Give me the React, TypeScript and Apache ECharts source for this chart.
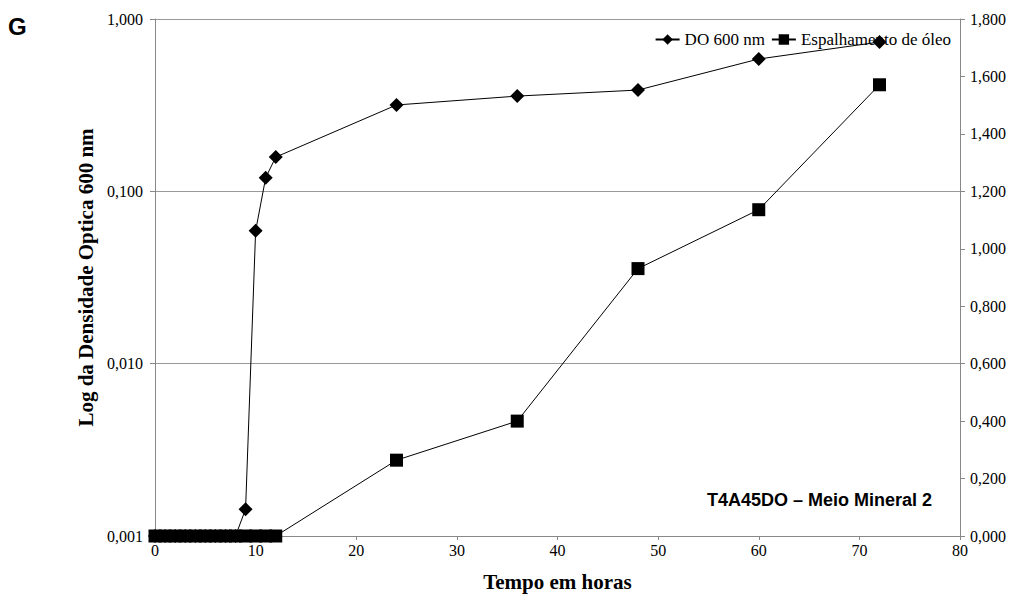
import React, { useEffect, useRef } from "react";
import * as echarts from "echarts";

const hoursDO = [0, 1, 2, 3, 4, 5, 6, 7, 8, 9, 10, 11, 12, 24, 36, 48, 60, 72];
const valuesDO = [0.001, 0.001, 0.001, 0.001, 0.001, 0.001, 0.001, 0.001, 0.001, 0.00143, 0.059, 0.12, 0.158, 0.317, 0.357, 0.387, 0.586, 0.735];
const hoursOil = [0, 1, 2, 3, 4, 5, 6, 7, 8, 9, 10, 11, 12, 24, 36, 48, 60, 72];
const valuesOil = [0, 0, 0, 0, 0, 0, 0, 0, 0, 0, 0, 0, 0, 0.264, 0.4, 0.931, 1.136, 1.571];
const seriesNames = ["DO 600 nm", "Espalhamento de óleo"];

const serif = "'Liberation Serif', 'Times New Roman', serif";
const sans = "'Liberation Sans', Arial, sans-serif";
const fmt = (v: number) => v.toFixed(3).replace(".", ",");

export default function App() {
  const ref = useRef<HTMLDivElement>(null);
  useEffect(() => {
    const chart = echarts.init(ref.current!, null, { renderer: "svg" });
    chart.setOption({
      animation: false,
      backgroundColor: "#fff",
      grid: { left: 155, right: 62, top: 19, bottom: 65 },
      legend: {
        right: 66,
        top: 26,
        itemGap: 6,
        itemWidth: 24,
        itemHeight: 13,
        textStyle: { fontFamily: serif, fontSize: 17, color: "#000" },
        data: seriesNames,
      },
      xAxis: {
        type: "value",
        min: 0,
        max: 80,
        interval: 10,
        name: "Tempo em horas",
        nameLocation: "middle",
        nameGap: 35,
        nameTextStyle: { fontFamily: serif, fontSize: 21, fontWeight: "bold", color: "#000" },
        axisLine: { show: true, lineStyle: { color: "#888" } },
        axisTick: { show: true, length: 4, lineStyle: { color: "#888" } },
        axisLabel: { fontFamily: serif, fontSize: 16, color: "#000", margin: 6 },
        splitLine: { show: false },
      },
      yAxis: [
        {
          type: "log",
          logBase: 10,
          min: 0.001,
          max: 1,
          name: "Log da Densidade Optica 600 nm",
          nameLocation: "middle",
          nameGap: 59,
          nameTextStyle: { fontFamily: serif, fontSize: 21, fontWeight: "bold", color: "#000" },
          axisLine: { show: true, lineStyle: { color: "#888" } },
          axisTick: { show: true, length: 5, lineStyle: { color: "#888" } },
          axisLabel: { fontFamily: serif, fontSize: 16, color: "#000", margin: 12, formatter: (v: number) => fmt(v) },
          splitLine: { show: true, lineStyle: { color: "#999", width: 1 } },
        },
        {
          type: "value",
          min: 0,
          max: 1.8,
          interval: 0.2,
          position: "right",
          axisLine: { show: true, lineStyle: { color: "#888" } },
          axisTick: { show: true, length: 5, lineStyle: { color: "#888" } },
          axisLabel: { fontFamily: serif, fontSize: 16, color: "#000", margin: 10, formatter: (v: number) => fmt(v) },
          splitLine: { show: false },
        },
      ],
      series: [
        {
          name: seriesNames[0],
          type: "line",
          yAxisIndex: 0,
          data: hoursDO.map((h, i) => [h, valuesDO[i]]),
          symbol: "diamond",
          symbolSize: 14,
          itemStyle: { color: "#000" },
          lineStyle: { color: "#000", width: 1 },
          z: 3,
        },
        {
          name: seriesNames[1],
          type: "line",
          yAxisIndex: 1,
          data: hoursOil.map((h, i) => [h, valuesOil[i]]),
          symbol: "rect",
          symbolSize: 13,
          itemStyle: { color: "#000" },
          lineStyle: { color: "#000", width: 1 },
          z: 3,
        },
      ],
      graphic: [
        {
          type: "text",
          left: 8,
          top: 14,
          style: { text: "G", fontFamily: sans, fontSize: 24, fontWeight: "bold", fill: "#000" },
        },
        {
          type: "text",
          right: 90,
          top: 491,
          z: 10,
          style: {
            text: "T4A45DO – Meio Mineral 2",
            fontFamily: sans,
            fontSize: 18,
            fontWeight: "bold",
            fill: "#000",
          },
        },
      ],
    });
    return () => chart.dispose();
  }, []);
  return <div ref={ref} style={{ width: 1022, height: 601, position: "absolute", left: 0, top: 0 }} />;
}
